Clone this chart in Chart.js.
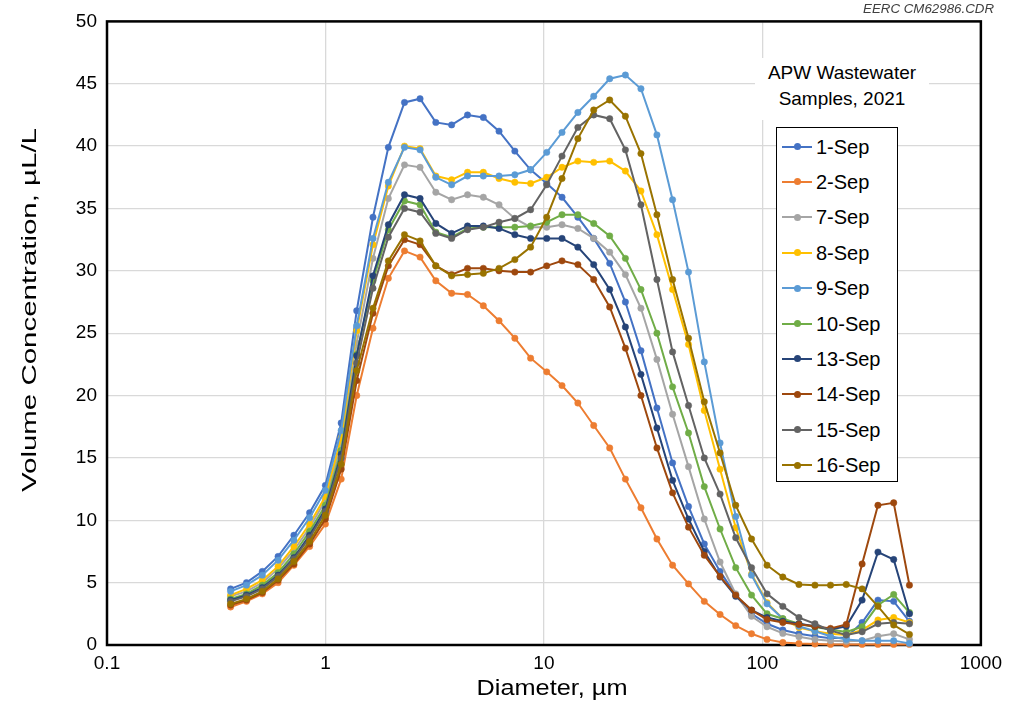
<!DOCTYPE html>
<html>
<head>
<meta charset="utf-8">
<title>APW Wastewater particle size</title>
<script src="https://cdn.jsdelivr.net/npm/chart.js@4.4.1/dist/chart.umd.min.js"></script>
<style>
  body { margin: 0; background: #fff; font-family: "Liberation Sans", Arial, sans-serif; }
  #wrap { position: relative; width: 1009px; height: 711px; }
  #legendTitle { position: absolute; left: 755px; top: 58px; width: 174px; height: 62px; background: #fff;
    text-align: center; font-size: 19px; line-height: 25.5px; color: #000; padding-top: 2px; box-sizing: border-box; }
  #legend { position: absolute; left: 776px; top: 127px; width: 122px; height: 355px; background: #fff;
    border: 1.5px solid #000; box-sizing: border-box; }
  .item { position: absolute; left: 0; width: 120px; height: 24px; }
  .item .ln { position: absolute; left: 5px; top: 11px; width: 30px; height: 2px; }
  .item .dot { position: absolute; left: 17px; top: 8.5px; width: 7px; height: 7px; border-radius: 50%; }
  .item .tx { position: absolute; left: 39px; top: 0; font-size: 20px; line-height: 24px; color: #000; }
</style>
</head>
<body>
<div id="wrap">
  <canvas id="chart" width="1009" height="711"></canvas>
  <div id="legendTitle">APW Wastewater<br>Samples, 2021</div>
  <div id="legend"></div>
</div>
<script>
// particle diameter bins, um
const diam = [0.368, 0.435, 0.514, 0.607, 0.717, 0.846, 0.999, 1.18, 1.39, 1.65, 1.94, 2.30, 2.71, 3.20, 3.78,
  4.47, 5.28, 6.23, 7.36, 8.69, 10.3, 12.1, 14.3, 16.9, 20.0, 23.6, 27.8, 32.9, 38.8, 45.9, 54.2, 64.0, 75.5,
  89.2, 105, 124, 147, 174, 205, 242, 286, 338, 399, 471]

// volume concentration, uL/L
const sep1 = [4.5, 5.0, 5.9, 7.1, 8.8, 10.6, 12.8, 17.8, 26.8, 34.3, 39.9, 43.5, 43.8, 41.9, 41.7, 42.5, 42.3,
  41.2, 39.6, 38.1, 37.0, 35.9, 34.3, 32.6, 30.6, 27.5, 23.6, 19.0, 14.6, 11.1, 8.1, 5.9, 4.0, 2.5, 1.7, 1.2,
  0.9, 0.7, 0.55, 0.6, 1.8, 3.6, 3.5, 1.9]
const sep2 = [3.05, 3.5, 4.1, 5.0, 6.4, 7.9, 9.7, 13.3, 20.0, 25.4, 29.4, 31.6, 31.1, 29.2, 28.2, 28.1, 27.2,
  26.0, 24.6, 23.0, 21.9, 20.8, 19.4, 17.6, 15.8, 13.3, 11.0, 8.5, 6.4, 4.9, 3.5, 2.45, 1.55, 0.9, 0.45, 0.2,
  0.12, 0.08, 0.05, 0.05, 0.05, 0.05, 0.05, 0.05]
const sep7 = [3.9, 4.3, 5.0, 6.1, 7.6, 9.4, 11.6, 16.1, 24.2, 31.0, 35.8, 38.5, 38.3, 36.3, 35.7, 36.1, 35.9,
  35.3, 34.2, 33.5, 33.5, 33.7, 33.4, 32.6, 31.5, 29.7, 27.0, 22.9, 18.5, 14.3, 10.1, 6.65, 4.1, 2.3, 1.46,
  0.93, 0.66, 0.45, 0.35, 0.3, 0.35, 0.7, 0.9, 0.45]
const sep8 = [4.0, 4.5, 5.2, 6.3, 7.9, 9.7, 11.9, 16.6, 25.2, 32.1, 36.8, 40.0, 39.8, 37.6, 37.3, 37.9, 37.9,
  37.4, 37.1, 37.0, 37.5, 38.3, 38.8, 38.7, 38.8, 38.0, 36.4, 32.9, 28.5, 24.1, 18.8, 14.1, 9.4, 5.7, 3.4, 2.1,
  1.4, 1.1, 0.9, 0.8, 1.2, 2.0, 2.2, 1.8]
const sep9 = [4.3, 4.8, 5.6, 6.8, 8.4, 10.2, 12.4, 17.2, 25.6, 32.6, 37.1, 39.9, 39.7, 37.5, 36.9, 37.6, 37.6,
  37.6, 37.7, 38.1, 39.5, 41.1, 42.7, 44.0, 45.4, 45.7, 44.6, 40.9, 35.7, 29.9, 22.7, 16.2, 10.3, 5.6, 3.3, 2.1,
  1.5, 1.1, 0.7, 0.45, 0.35, 0.35, 0.35, 0.13]
const sep10 = [3.7, 4.1, 4.8, 5.8, 7.3, 9.1, 11.2, 15.6, 23.3, 29.2, 33.3, 35.6, 35.3, 33.1, 32.7, 33.4, 33.5,
  33.5, 33.5, 33.6, 33.9, 34.5, 34.5, 33.8, 32.8, 31.0, 28.5, 25.0, 20.7, 17.0, 12.7, 9.3, 6.2, 4.0, 2.5, 2.1,
  1.7, 1.45, 1.25, 1.05, 1.46, 3.2, 4.05, 2.6]
const sep13 = [3.6, 4.0, 4.6, 5.6, 7.0, 8.8, 10.9, 15.3, 23.2, 29.6, 33.7, 36.1, 35.8, 33.8, 33.0, 33.6, 33.6,
  33.4, 32.9, 32.6, 32.6, 32.6, 31.9, 30.5, 28.5, 25.5, 21.7, 17.4, 13.2, 10.1, 7.5, 5.45, 3.9, 2.8, 2.2, 1.9,
  1.7, 1.5, 1.25, 1.5, 3.6, 7.45, 6.85, 2.5]
const sep14 = [3.2, 3.6, 4.2, 5.2, 6.5, 8.1, 10.1, 14.1, 21.2, 26.6, 30.4, 32.5, 32.1, 30.4, 29.7, 30.2, 30.2,
  30.0, 29.9, 29.9, 30.4, 30.8, 30.5, 29.3, 27.1, 23.8, 20.0, 15.8, 12.2, 9.45, 7.2, 5.5, 4.0, 2.8, 2.05, 1.8,
  1.65, 1.5, 1.33, 1.65, 6.5, 11.2, 11.4, 4.8]
const sep15 = [3.5, 3.9, 4.5, 5.5, 6.9, 8.6, 10.7, 15.0, 22.6, 28.6, 32.7, 35.0, 34.7, 33.0, 32.6, 33.3, 33.5,
  33.9, 34.2, 34.9, 36.9, 39.2, 41.5, 42.5, 42.2, 39.7, 35.3, 29.3, 23.5, 19.2, 15.0, 12.1, 8.6, 6.2, 4.1, 3.1,
  2.2, 1.7, 1.15, 0.8, 1.06, 1.7, 1.8, 1.7]
const sep16 = [3.3, 3.7, 4.3, 5.3, 6.7, 8.3, 10.4, 14.5, 22.0, 27.0, 30.8, 32.9, 32.4, 30.4, 29.6, 29.7, 29.8,
  30.2, 30.9, 31.9, 34.3, 37.4, 40.6, 42.9, 43.7, 42.4, 39.4, 34.5, 29.3, 24.6, 19.5, 15.4, 11.2, 8.5, 6.4, 5.45,
  4.85, 4.8, 4.8, 4.85, 4.5, 3.1, 1.6, 0.85]

const seriesNames = ['1-Sep', '2-Sep', '7-Sep', '8-Sep', '9-Sep', '10-Sep', '13-Sep', '14-Sep', '15-Sep', '16-Sep']
const seriesValues = [sep1, sep2, sep7, sep8, sep9, sep10, sep13, sep14, sep15, sep16]
const seriesColors = ['#4472C4', '#ED7D31', '#A5A5A5', '#FFC000', '#5B9BD5', '#70AD47', '#264478', '#9E480E', '#636363', '#997300']

const xTicks = [0.1, 1, 10, 100, 1000]
const xTickLabels = ['0.1', '1', '10', '100', '1000']
const yTicks = [0, 5, 10, 15, 20, 25, 30, 35, 40, 45, 50]

const FONT = '"Liberation Sans", Arial, sans-serif'

// stretched text, the source artwork was scaled unevenly
function stretchedText(ctx, text, x, y, font, length, angle, align) {
  ctx.save()
  ctx.font = font
  const w = ctx.measureText(text).width
  ctx.translate(x, y)
  ctx.rotate(angle)
  ctx.scale(length / w, 1)
  ctx.textAlign = align || 'center'
  ctx.textBaseline = 'middle'
  ctx.fillStyle = '#000'
  ctx.fillText(text, 0, 0)
  ctx.restore()
}

const frame = {
  id: 'frame',
  beforeDatasetsDraw(chart) {
    const { ctx, chartArea: a } = chart
    ctx.save()
    ctx.strokeStyle = '#000'
    ctx.lineWidth = 2.5
    ctx.strokeRect(a.left, a.top, a.right - a.left, a.bottom - a.top)
    ctx.restore()
  },
  afterDraw(chart) {
    const ctx = chart.ctx
    stretchedText(ctx, 'Volume Concentration, \u00b5L/L', 30, 310, '21px ' + FONT, 364, -Math.PI / 2)
    stretchedText(ctx, 'Diameter, \u00b5m', 552, 689, '22px ' + FONT, 151, 0)
    ctx.save()
    ctx.fillStyle = '#404040'
    ctx.font = 'italic 12px ' + FONT
    const w = ctx.measureText('EERC CM62986.CDR').width
    ctx.translate(994, 10)
    ctx.scale(131 / w, 1)
    ctx.textAlign = 'right'
    ctx.textBaseline = 'middle'
    ctx.fillText('EERC CM62986.CDR', 0, 0)
    ctx.restore()
  }
}

const datasets = seriesNames.map((name, i) => ({
  label: name,
  data: diam.map((d, j) => ({ x: d, y: seriesValues[i][j] })),
  borderColor: seriesColors[i],
  backgroundColor: seriesColors[i],
  pointBackgroundColor: seriesColors[i],
  pointBorderColor: seriesColors[i],
  pointRadius: 3.2,
  pointBorderWidth: 0.5,
  borderWidth: 2,
  tension: 0,
  clip: false,
  order: seriesNames.length - i
}))

new Chart(document.getElementById('chart'), {
  type: 'line',
  data: { datasets: datasets },
  options: {
    responsive: false,
    animation: false,
    devicePixelRatio: 1,
    layout: { padding: { top: 19, right: 26, left: 0, bottom: 0 } },
    plugins: { legend: { display: false }, tooltip: { enabled: false } },
    scales: {
      x: {
        type: 'logarithmic',
        min: 0.1,
        max: 1000,
        afterBuildTicks: s => { s.ticks = xTicks.map(v => ({ value: v })) },
        afterFit: s => { s.height = 66 },
        ticks: {
          autoSkip: false,
          maxRotation: 0,
          padding: 7,
          color: '#000',
          font: { family: FONT, size: 19 },
          callback: v => xTickLabels[xTicks.indexOf(v)]
        },
        grid: { color: '#d9d9d9', lineWidth: 1.3, drawTicks: false },
        border: { display: false }
      },
      y: {
        min: 0,
        max: 50,
        afterBuildTicks: s => { s.ticks = yTicks.map(v => ({ value: v })) },
        afterFit: s => { s.width = 107 },
        ticks: {
          padding: 10,
          color: '#000',
          font: { family: FONT, size: 19 }
        },
        grid: { color: '#d9d9d9', lineWidth: 1.3, drawTicks: false },
        border: { display: false }
      }
    }
  },
  plugins: [frame]
})

// legend box
const legend = document.getElementById('legend')
seriesNames.forEach((name, i) => {
  const item = document.createElement('div')
  item.className = 'item'
  item.style.top = (6.5 + i * 35.4) + 'px'
  item.innerHTML = '<div class="ln" style="background:' + seriesColors[i] + '"></div>' +
    '<div class="dot" style="background:' + seriesColors[i] + '"></div>' +
    '<div class="tx">' + name + '</div>'
  legend.appendChild(item)
})
</script>
</body>
</html>
